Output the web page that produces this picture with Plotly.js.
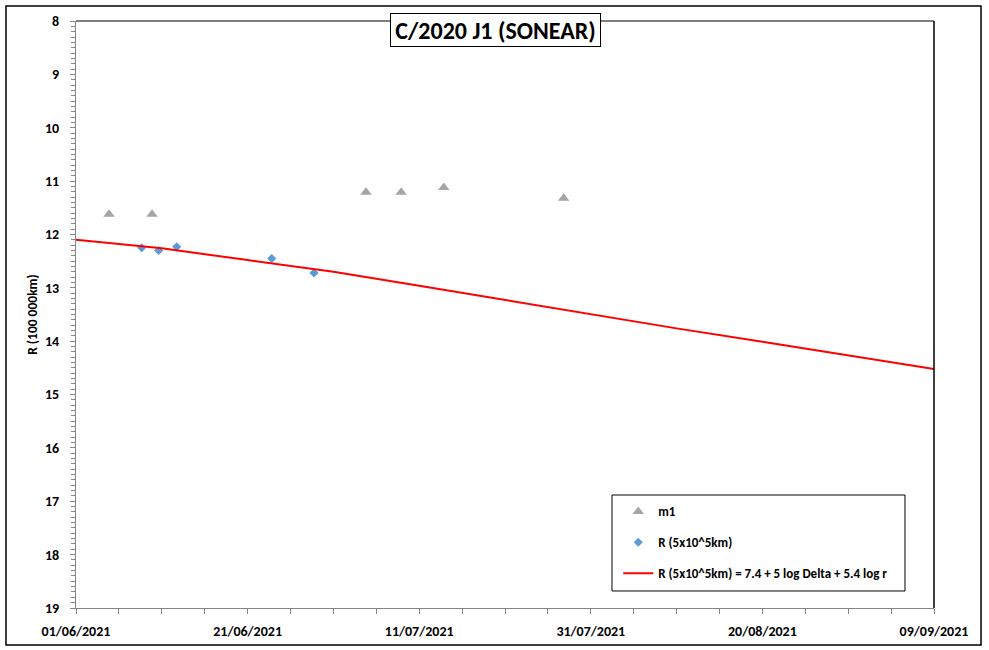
<!DOCTYPE html>
<html>
<head>
<meta charset="utf-8">
<script src="https://cdn.plot.ly/plotly-3.0.1.min.js"></script>
<style>
  html, body { margin: 0; padding: 0; background: #fff; }
  #chart { width: 989px; height: 650px; }
</style>
</head>
<body>
<div id="chart"></div>
<script>
// ---- data ----
const m1Dates = ['2021-06-04 20:24', '2021-06-09 20:38', '2021-07-04 19:12', '2021-07-08 21:36', '2021-07-13 20:38', '2021-07-27 20:10'];
const m1Values = [11.62, 11.62, 11.21, 11.21, 11.12, 11.32];

const rDates = ['2021-06-08 15:50', '2021-06-10 15:22', '2021-06-12 17:46', '2021-06-23 19:26', '2021-06-28 17:46'];
const rValues = [12.25, 12.30, 12.23, 12.45, 12.72];

const modelDates = ['2021-06-01', '2021-06-11', '2021-06-21', '2021-07-01', '2021-07-11', '2021-07-21', '2021-07-31', '2021-08-10', '2021-08-20', '2021-08-30', '2021-09-09'];
const modelValues = [12.10, 12.26, 12.48, 12.70, 12.96, 13.23, 13.49, 13.76, 14.01, 14.27, 14.52];

const seriesNames = ['m1', 'R (5x10^5km)', 'R (5x10^5km) = 7.4 + 5 log Delta + 5.4 log r'];
const chartTitle = 'C/2020 J1 (SONEAR)';
const yTitle = 'R (100 000km)';

// ---- chart ----
const FONT = 'Carlito, Lato, "Open Sans", sans-serif';
const AXIS_GRAY = '#868686';
const DAY = 86400000;

const traces = [
  { x: m1Dates, y: m1Values, name: seriesNames[0], type: 'scatter', mode: 'markers',
    legendgroup: 'a',
    marker: { symbol: 'triangle-up', size: 10, color: '#A5A5A5' } },
  { x: rDates, y: rValues, name: seriesNames[1], type: 'scatter', mode: 'markers',
    legendgroup: 'b',
    marker: { symbol: 'diamond', size: 7, color: '#5B9BD5' } },
  { x: modelDates, y: modelValues, name: seriesNames[2], type: 'scatter', mode: 'lines',
    legendgroup: 'c',
    line: { color: '#FF0000', width: 2 } }
];

const layout = {
  width: 989, height: 650,
  margin: { l: 76, r: 55, t: 21, b: 42 },
  paper_bgcolor: '#ffffff', plot_bgcolor: '#ffffff',
  font: { family: FONT, color: '#000000' },
  showlegend: true,
  legend: {
    x: 0.632, y: 0.19, xanchor: 'left', yanchor: 'top',
    bgcolor: 'rgba(0,0,0,0)', borderwidth: 0,
    traceorder: 'grouped', tracegroupgap: 11,
    font: { family: FONT, size: 13, weight: 'bold', color: '#000' },
    itemwidth: 30
  },
  xaxis: {
    type: 'date',
    range: ['2021-06-01', '2021-09-09'],
    tick0: '2021-06-01', dtick: 20 * DAY,
    tickformat: '%d/%m/%Y',
    ticks: 'outside', ticklen: 5, tickwidth: 1, tickcolor: AXIS_GRAY,
    minor: { tick0: '2021-06-01', dtick: 5 * DAY, ticks: 'outside', ticklen: 5, tickwidth: 1, tickcolor: AXIS_GRAY, showgrid: false },
    showline: true, linecolor: AXIS_GRAY, linewidth: 1,
    showgrid: false, zeroline: false,
    tickfont: { family: FONT, size: 14, weight: 'bold', color: '#000' },
    ticklabelstandoff: 5
  },
  yaxis: {
    range: [19, 8],
    tick0: 8, dtick: 1,
    ticks: 'outside', ticklen: 5, tickwidth: 1, tickcolor: AXIS_GRAY,
    minor: { dtick: 0.1, ticks: 'outside', ticklen: 4, tickwidth: 1, tickcolor: AXIS_GRAY, showgrid: false },
    showline: true, linecolor: AXIS_GRAY, linewidth: 1,
    showgrid: false, zeroline: false,
    tickfont: { family: FONT, size: 14, weight: 'bold', color: '#000' },
    ticklabelstandoff: 8,
    title: { text: yTitle, font: { family: FONT, size: 13.5, weight: 'bold', color: '#000' }, standoff: 4 }
  },
  shapes: [
    // outer chart border
    { type: 'rect', xref: 'paper', yref: 'paper', x0: -0.0816, x1: 1.0548, y0: -0.0630, y1: 1.0256,
      line: { color: '#000', width: 1.5 }, fillcolor: 'rgba(0,0,0,0)', layer: 'below' },
    // plot area top and right border
    { type: 'line', xref: 'paper', yref: 'paper', x0: 0, x1: 1, y0: 1, y1: 1, line: { color: '#000', width: 1 } },
    { type: 'line', xref: 'paper', yref: 'paper', x0: 1, x1: 1, y0: 0, y1: 1, line: { color: '#000', width: 1.5 } },
    // legend box
    { type: 'rect', xref: 'paper', yref: 'paper', x0: 0.6247, x1: 0.9662, y0: 0.029, y1: 0.1925,
      line: { color: '#000', width: 1 }, fillcolor: 'rgba(0,0,0,0)' }
  ],
  annotations: [
    { text: chartTitle, xref: 'paper', yref: 'paper', x: 0.489, y: 0.984,
      xanchor: 'center', yanchor: 'middle', showarrow: false,
      font: { family: FONT, size: 24, weight: 'bold', color: '#000' },
      bgcolor: '#ffffff', bordercolor: '#000', borderwidth: 1, borderpad: 3,
      width: 203, height: 26 }
  ]
};

Plotly.newPlot('chart', traces, layout, { displayModeBar: false, staticPlot: true });
</script>
</body>
</html>
